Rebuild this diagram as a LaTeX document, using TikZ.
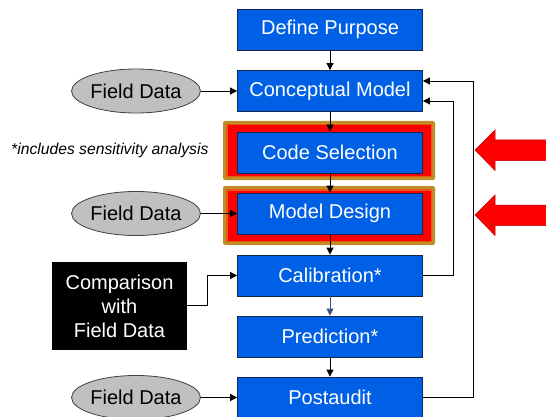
\documentclass[tikz,border=0pt]{standalone}
\usepackage{fontspec}
\setmainfont{Liberation Sans}
\usetikzlibrary{arrows.meta,shapes.geometric,calc}
\definecolor{boxblue}{RGB}{0,96,229}
\definecolor{boxedge}{RGB}{20,40,80}
\definecolor{goldedge}{RGB}{192,142,40}
\definecolor{orangeline}{RGB}{232,90,20}
\definecolor{slatearrow}{RGB}{55,85,130}
\definecolor{fieldgray}{RGB}{192,192,192}
\tikzset{
  stepbox/.style={rectangle, draw=boxedge, line width=0.8pt, fill=boxblue, text=white,
    minimum width=185pt, minimum height=41pt, inner sep=0pt,
    font=\fontsize{20}{24}\selectfont},
  fielddata/.style={ellipse, draw=black!75, line width=0.8pt, fill=fieldgray,
    minimum width=124pt, minimum height=44pt, inner sep=0pt,
    font=\fontsize{20}{24}\selectfont},
  blackbox/.style={rectangle, fill=black, text=white, minimum width=135pt,
    minimum height=88pt, inner sep=0pt, align=center,
    font=\fontsize{20}{24}\selectfont},
  conn/.style={line width=0.8pt, draw=black, -{Triangle[length=7pt,width=7pt]}},
  bigarrow/.style={fill=red, draw=red!75!black, line width=0.5pt},
}
\begin{document}
\begin{tikzpicture}[x=1pt,y=-1pt]
\useasboundingbox (0,0) rectangle (546,417);
\clip (0,0) rectangle (546,417);

% highlight frames
\foreach \ya/\yb in {121/180, 186/245}{
  \fill[goldedge, rounded corners=2pt] (223,\ya) rectangle (435,\yb);
  \fill[orangeline] (226,\ya+3) rectangle (432,\yb-3);
  \fill[red] (227.5,\ya+4.5) rectangle (430.5,\yb-4.5);
}

% main steps
\node[stepbox] (dp)  at (330,29.5)  {Define Purpose};
\node[stepbox] (cm)  at (330,91)    {Conceptual Model};
\node[stepbox] (cs)  at (330,152.5) {Code Selection};
\node[stepbox] (md)  at (330,213.5) {Model Design};
\node[stepbox] (cal) at (330,275.5) {Calibration*};
\node[stepbox] (pre) at (330,336.5) {Prediction*};
\node[stepbox] (pa)  at (330,397.5) {Postaudit};

% field data ellipses
\node[fielddata] (fd1) at (136,91)    {Field Data};
\node[fielddata] (fd2) at (136,213.5) {Field Data};
\node[fielddata] (fd3) at (136,397.5) {Field Data};

% comparison box
\node[blackbox] (cmp) at (119.5,306) {Comparison\\with\\Field Data};

% note
\node[anchor=west, inner sep=0pt, font=\fontsize{15.7}{18}\selectfont\itshape] (note) at (11,150) {*includes sensitivity analysis};

% vertical flow
\draw[conn] (dp) -- (cm);
\draw[conn] (cm) -- (cs);
\draw[conn] (cs) -- (md);
\draw[conn] (md) -- (cal);
\draw[conn, draw=slatearrow, -{Triangle[length=7pt,width=7pt,fill=slatearrow]}] (cal) -- (pre);
\draw[conn] (pre) -- (pa);

% inputs
\draw[conn] (fd1) -- (cm);
\draw[conn] (fd2) -- (md);
\draw[conn] (fd3) -- (pa);
\coordinate (cmpout) at ($(cmp.east)+(0,-1)$);
\coordinate (calin) at ($(cal.west)+(0,0)$);
\draw[conn] (cmpout) -- (207,305) |- (calin);

% feedback loops
\coordinate (calout) at ($(cal.east)+(0,-0.5)$);
\coordinate (cmin1) at ($(cm.east)+(0,10)$);
\coordinate (paout) at (pa.east);
\coordinate (cmin2) at ($(cm.east)+(0,-10)$);
\draw[conn] (calout) -- (453,275) |- (cmin1);
\draw[conn] (paout) -- (473,397.5) |- (cmin2);

% big red arrows
\foreach \yc in {150,215}{
  \filldraw[bigarrow] (547,\yc-10) -- (495,\yc-10) -- (495,\yc-20) -- (475,\yc)
    -- (495,\yc+20.5) -- (495,\yc+10.5) -- (547,\yc+10.5) -- cycle;
}
\end{tikzpicture}
\end{document}
